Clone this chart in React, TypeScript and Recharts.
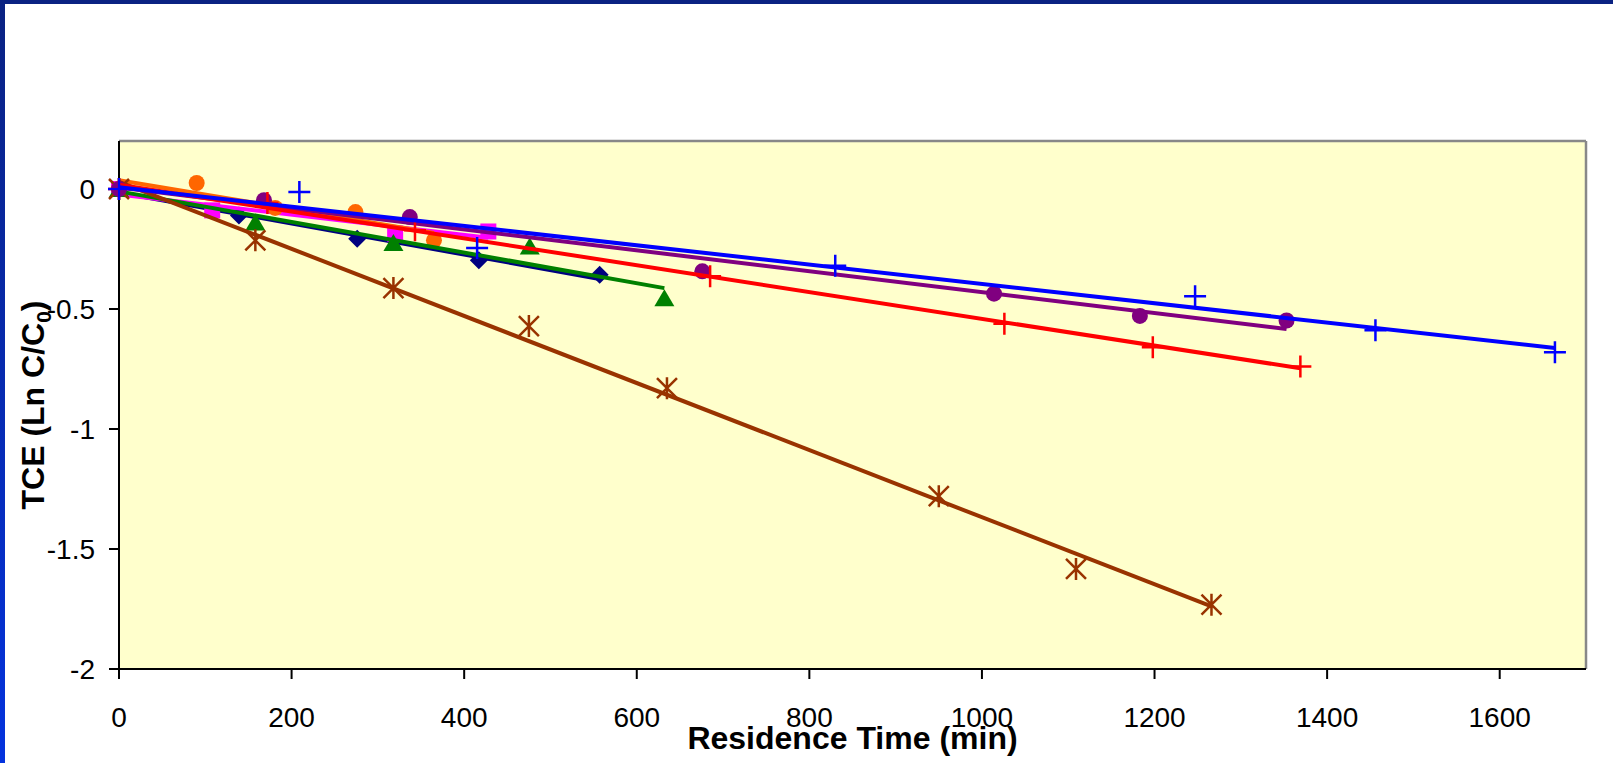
import React from "react";
import {
  ScatterChart,
  Scatter,
  XAxis,
  YAxis,
  CartesianGrid,
  ReferenceLine,
} from "recharts";

// residence time (min) and ln(C/C0) per run
const navyTime = [0, 139, 276, 417, 557];
const navyLn = [0, -0.11, -0.207, -0.297, -0.357];

const magentaTime = [0, 108, 320, 428];
const magentaLn = [0, -0.089, -0.186, -0.177];

const orangeTime = [0, 90, 181, 274, 365];
const orangeLn = [0, 0.025, -0.079, -0.096, -0.214];

const greenTime = [0, 158, 318, 476, 632];
const greenLn = [0, -0.14, -0.225, -0.24, -0.455];

const brownTime = [0, 158, 318, 475, 635, 950, 1109, 1266];
const brownLn = [0, -0.214, -0.413, -0.571, -0.83, -1.28, -1.583, -1.732];

const purpleTime = [0, 168, 337, 676, 1014, 1183, 1353];
const purpleLn = [0, -0.047, -0.117, -0.343, -0.436, -0.529, -0.548];

const redTime = [0, 172, 343, 685, 1026, 1198, 1369];
const redLn = [0, -0.058, -0.172, -0.364, -0.561, -0.659, -0.74];

const blueTime = [0, 209, 415, 830, 1247, 1456, 1664];
const blueLn = [0, -0.012, -0.246, -0.32, -0.447, -0.589, -0.68];

const xTicks = [0, 200, 400, 600, 800, 1000, 1200, 1400, 1600];
const yTicks = [0, -0.5, -1, -1.5, -2];

const FONT = '"Liberation Sans", Arial, sans-serif';

const toPoints = (ts: number[], ys: number[]) => ts.map((t, i) => ({ t, y: ys[i] }));

// marker shapes
const circle = (color: string) => (p: any) => <circle cx={p.cx} cy={p.cy} r={8} fill={color} />;
const diamond = (color: string) => (p: any) => (
  <path d={`M${p.cx},${p.cy - 9}L${p.cx + 9},${p.cy}L${p.cx},${p.cy + 9}L${p.cx - 9},${p.cy}Z`} fill={color} />
);
const square = (color: string) => (p: any) => (
  <rect x={p.cx - 8} y={p.cy - 8} width={16} height={16} fill={color} />
);
const triangle = (color: string) => (p: any) => (
  <path d={`M${p.cx},${p.cy - 9}L${p.cx + 10},${p.cy + 8}L${p.cx - 10},${p.cy + 8}Z`} fill={color} />
);
const plus = (color: string) => (p: any) => (
  <path d={`M${p.cx - 11},${p.cy}h22M${p.cx},${p.cy - 11}v22`} stroke={color} strokeWidth={2.5} fill="none" />
);
const star = (color: string) => (p: any) => (
  <path
    d={`M${p.cx},${p.cy - 11}v22M${p.cx - 10},${p.cy - 10}l20,20M${p.cx + 10},${p.cy - 10}l-20,20`}
    stroke={color}
    strokeWidth={2.5}
    fill="none"
  />
);

const series = [
  { key: "navy", color: "#000080", data: toPoints(navyTime, navyLn), shape: diamond },
  { key: "magenta", color: "#FF00FF", data: toPoints(magentaTime, magentaLn), shape: square },
  { key: "orange", color: "#FF6600", data: toPoints(orangeTime, orangeLn), shape: circle },
  { key: "green", color: "#008000", data: toPoints(greenTime, greenLn), shape: triangle },
  { key: "brown", color: "#993300", data: toPoints(brownTime, brownLn), shape: star },
  { key: "purple", color: "#800080", data: toPoints(purpleTime, purpleLn), shape: circle },
  { key: "red", color: "#FF0000", data: toPoints(redTime, redLn), shape: plus },
  { key: "blue", color: "#0000FF", data: toPoints(blueTime, blueLn), shape: plus },
];

const XTitle = (props: any) => {
  const vb = props.viewBox;
  return (
    <text x={vb.x + vb.width / 2} y={749} textAnchor="middle" fontFamily={FONT} fontWeight="bold" fontSize={32} fill="#000">
      Residence Time (min)
    </text>
  );
};

const YTitle = () => (
  <text
    x={44}
    y={405}
    transform="rotate(-90, 44, 405)"
    textAnchor="middle"
    fontFamily={FONT}
    fontWeight="bold"
    fontSize={32}
    fill="#000"
  >
    TCE (Ln C/C
    <tspan fontSize={21} dy={7}>0</tspan>
    <tspan dy={-7}>)</tspan>
  </text>
);

export default function App() {
  return (
    <div style={{ position: "absolute", left: 0, top: 0, width: 1613, height: 763, background: "#fff", overflow: "hidden" }}>
      <div style={{ position: "absolute", left: 0, top: 0, width: 1613, height: 4, background: "#0a2282" }} />
      <div
        style={{
          position: "absolute",
          left: 0,
          top: 0,
          width: 5,
          height: 763,
          background: "linear-gradient(to bottom, #0a2282, #0433de)",
        }}
      />
      <ScatterChart width={1613} height={763} margin={{ top: 141, right: 27, left: 0, bottom: 0 }}>
        <CartesianGrid fill="#FFFFCC" horizontal={false} vertical={false} />
        <XAxis
          type="number"
          dataKey="t"
          domain={[0, 1700]}
          ticks={xTicks}
          height={94}
          tickSize={10}
          tickMargin={28}
          axisLine={{ stroke: "#000", strokeWidth: 2 }}
          tickLine={{ stroke: "#000", strokeWidth: 2 }}
          tick={{ fill: "#000", fontSize: 28, fontFamily: FONT }}
          label={<XTitle />}
        />
        <YAxis
          type="number"
          dataKey="y"
          domain={[-2, 0.2]}
          ticks={yTicks}
          width={119}
          tickSize={10}
          tickMargin={14}
          axisLine={{ stroke: "#000", strokeWidth: 2 }}
          tickLine={{ stroke: "#000", strokeWidth: 2 }}
          tick={{ fill: "#000", fontSize: 28, fontFamily: FONT }}
          label={<YTitle />}
        />
        <ReferenceLine y={0.2} stroke="#888" strokeWidth={2.5} />
        <ReferenceLine x={1700} stroke="#888" strokeWidth={2.5} />
        {series.map((s) => (
          <Scatter
            key={s.key}
            data={s.data}
            fill={s.color}
            shape={s.shape(s.color)}
            line={{ stroke: s.color, strokeWidth: 4 }}
            lineType="fitting"
            isAnimationActive={false}
          />
        ))}
      </ScatterChart>
    </div>
  );
}
